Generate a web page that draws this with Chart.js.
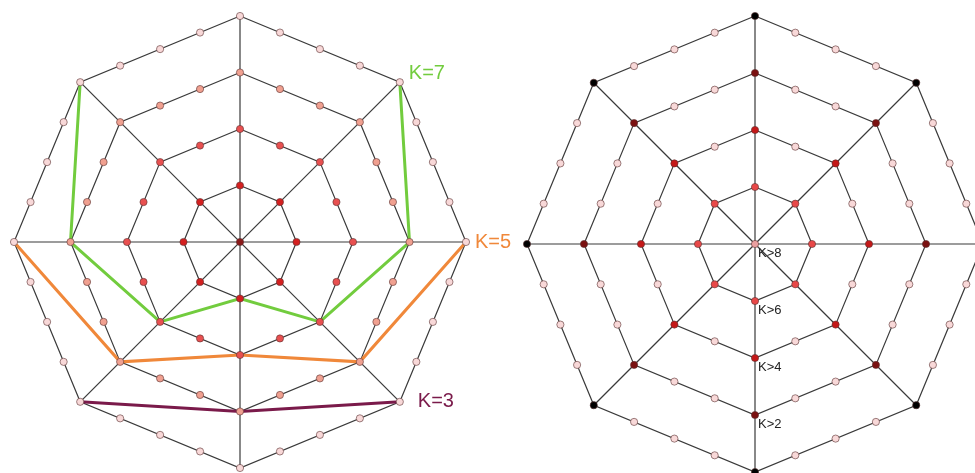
<!DOCTYPE html>
<html>
<head>
<meta charset="utf-8">
<script src="https://cdn.jsdelivr.net/npm/chart.js@4/dist/chart.umd.min.js"></script>
<style>
    html, body { margin: 0; padding: 0; background: #fff; }
    #wrap { width: 975px; height: 473px; }
</style>
</head>
<body>
<div id="wrap"><canvas id="chart-web" width="975" height="473"></canvas></div>
<script>
// Geometrie: 8 Speichen, 4 Ringe
const SPOKES = 8;
const RINGS = [1, 2, 3, 4];

// Farben je Ring (Index 0 = Mittelpunkt)
const LEFT_RING_COLORS = ['#8b1a1a', '#d42020', '#e85050', '#f0a090', '#f8d8d8'];
const RIGHT_VERTEX_COLORS = ['#eaa0a0', '#e84848', '#c41818', '#7a1010', '#000000'];
const RIGHT_MID_COLOR = '#f8d8d8';

// Pfade links: [Ring, Speiche] (Speiche 0 = oben, im Uhrzeigersinn)
const PATH_K7 = [[4, 7], [3, 6], [2, 5], [1, 4], [2, 3], [3, 2], [4, 1]];
const PATH_K5 = [[4, 6], [3, 5], [2, 4], [3, 3], [4, 2]];
const PATH_K3 = [[4, 5], [3, 4], [4, 3]];
const PATH_LABELS = ['K=7', 'K=5', 'K=3'];
const PATH_COLORS = ['#72cc3e', '#f0883a', '#7a1a4a'];
const PATH_LABEL_AT = [[4, 1], [4, 2], [4, 3]];

// Beschriftungen rechts (auf der unteren Speiche)
const RIGHT_LABELS = ['K>8', 'K>6', 'K>4', 'K>2'];
const RIGHT_LABEL_RINGS = [0, 1, 2, 3];

// Lage der beiden Netze
const LEFT = { cx: 240, cy: 242, unit: 56.5 };
const RIGHT = { cx: 755, cy: 244, unit: 57 };

const LINE_COLOR = '#3a3a3a';

function vertex(d, ring, spoke) {
    const a = spoke * 2 * Math.PI / SPOKES;
    return { x: d.cx + ring * d.unit * Math.sin(a), y: d.cy - ring * d.unit * Math.cos(a) };
}

// Punkt j auf Ring k (Ring k hat 8k Punkte)
function ringPoint(d, k, j) {
    const v = Math.floor(j / k);
    const t = (j % k) / k;
    const p = vertex(d, k, v);
    const q = vertex(d, k, (v + 1) % SPOKES);
    return { x: p.x + (q.x - p.x) * t, y: p.y + (q.y - p.y) * t, isVertex: j % k === 0 };
}

function webDatasets(d) {
    const sets = [];
    RINGS.forEach(k => {
        const pts = [];
        for (let s = 0; s <= SPOKES; s++) pts.push(vertex(d, k, s % SPOKES));
        sets.push({ data: pts, showLine: true, pointRadius: 0, borderColor: LINE_COLOR, borderWidth: 1.2, order: 3 });
    });
    const outer = RINGS[RINGS.length - 1];
    for (let s = 0; s < SPOKES / 2; s++) {
        sets.push({
            data: [vertex(d, outer, s), vertex(d, outer, s + SPOKES / 2)],
            showLine: true, pointRadius: 0, borderColor: LINE_COLOR, borderWidth: 1.2, order: 3
        });
    }
    return sets;
}

function pointDataset(d, colorFn) {
    const pts = [{ x: d.cx, y: d.cy }];
    const colors = [colorFn(0, true)];
    RINGS.forEach(k => {
        for (let j = 0; j < SPOKES * k; j++) {
            const p = ringPoint(d, k, j);
            pts.push({ x: p.x, y: p.y });
            colors.push(colorFn(k, p.isVertex));
        }
    });
    return {
        data: pts, showLine: false, pointRadius: 3.6, pointHoverRadius: 3.6,
        pointBackgroundColor: colors, pointBorderColor: 'rgba(90,50,50,0.75)',
        pointBorderWidth: 0.8, order: 0
    };
}

function pathDataset(d, path, color) {
    return {
        data: path.map(([k, s]) => vertex(d, k, s)),
        showLine: true, pointRadius: 0, borderColor: color, borderWidth: 3, order: 1
    };
}

const datasets = [
    ...webDatasets(LEFT),
    ...webDatasets(RIGHT),
    pathDataset(LEFT, PATH_K7, PATH_COLORS[0]),
    pathDataset(LEFT, PATH_K5, PATH_COLORS[1]),
    pathDataset(LEFT, PATH_K3, PATH_COLORS[2]),
    pointDataset(LEFT, (k) => LEFT_RING_COLORS[k]),
    pointDataset(RIGHT, (k, isVertex) => isVertex ? RIGHT_VERTEX_COLORS[k] : RIGHT_MID_COLOR)
];

// Texte zeichnen
const labelPlugin = {
    id: 'webLabels',
    afterDatasetsDraw(chart) {
        const { ctx, scales: { x, y } } = chart;
        ctx.save();
        ctx.textAlign = 'left';
        ctx.textBaseline = 'middle';
        ctx.font = '20px "Liberation Sans", Arial, sans-serif';
        const offs = [[9, -9], [9, 0], [18, 0]];
        PATH_LABELS.forEach((txt, i) => {
            const p = vertex(LEFT, PATH_LABEL_AT[i][0], PATH_LABEL_AT[i][1]);
            ctx.fillStyle = PATH_COLORS[i];
            ctx.fillText(txt, x.getPixelForValue(p.x) + offs[i][0], y.getPixelForValue(p.y) + offs[i][1]);
        });
        ctx.font = '13px "Liberation Sans", Arial, sans-serif';
        ctx.fillStyle = '#222';
        RIGHT_LABELS.forEach((txt, i) => {
            const p = vertex(RIGHT, RIGHT_LABEL_RINGS[i], SPOKES / 2);
            ctx.fillText(txt, x.getPixelForValue(p.x) + 3, y.getPixelForValue(p.y) + 9);
        });
        ctx.restore();
    }
};

new Chart(document.getElementById('chart-web'), {
    type: 'scatter',
    data: { datasets: datasets },
    options: {
        responsive: false,
        animation: false,
        clip: false,
        layout: { padding: 0, autoPadding: false },
        plugins: { legend: { display: false }, tooltip: { enabled: false } },
        elements: { line: { tension: 0, fill: false } },
        scales: {
            x: { type: 'linear', min: 0, max: 975, display: false },
            y: { type: 'linear', min: 0, max: 473, reverse: true, display: false }
        }
    },
    plugins: [labelPlugin]
});
</script>
</body>
</html>
